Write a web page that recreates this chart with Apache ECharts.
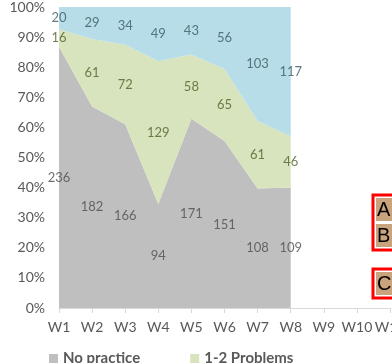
<!DOCTYPE html>
<html>
<head>
<meta charset="utf-8">
<script src="https://cdn.jsdelivr.net/npm/echarts@6/dist/echarts.min.js"></script>
<style>
  html, body { margin: 0; padding: 0; background: #fff; }
  #chart { width: 392px; height: 363px; }
</style>
</head>
<body>
<div id="chart"></div>
<script>
// weeks on the x axis (last one is cut off at the right edge)
const weeks = ['W1', 'W2', 'W3', 'W4', 'W5', 'W6', 'W7', 'W8', 'W9', 'W10', 'W11']
const seriesNames = ['No practice', '1-2 Problems', '3+ Problems']
// counts per week, only W1..W8 have data
const noPractice = [236, 182, 166, 94, 171, 151, 108, 109]
const oneTwo = [16, 61, 72, 129, 58, 65, 61, 46]
const threePlus = [20, 29, 34, 49, 43, 56, 103, 117]

const areaColors = ['#bfbfbf', '#d7e4bd', '#b7dde8']
const labelColors = ['#4d4d4d', '#4f6228', '#3b5a64']
const font = 'Lato, "Open Sans", sans-serif'

const counts = [noPractice, oneTwo, threePlus]
const totals = noPractice.map((v, i) => v + oneTwo[i] + threePlus[i])
const pcts = counts.map(arr => arr.map((v, i) => v / totals[i] * 100))

const series = []
// the stacked areas
pcts.forEach((arr, k) => {
    series.push({
        name: seriesNames[k],
        type: 'line',
        stack: 'total',
        symbol: 'none',
        lineStyle: { width: 0 },
        areaStyle: { color: areaColors[k], opacity: 1 },
        itemStyle: { color: areaColors[k] },
        data: arr
    })
})
// count labels in the middle of each band
pcts.forEach((arr, k) => {
    const mids = arr.map((v, i) => {
        let below = 0
        for (let j = 0; j < k; j++) below += pcts[j][i]
        return below + v / 2
    })
    series.push({
        name: seriesNames[k] + ' label',
        type: 'scatter',
        symbolSize: 1,
        itemStyle: { color: 'rgba(0,0,0,0)' },
        silent: true,
        z: 5,
        label: {
            show: true,
            position: 'inside',
            color: labelColors[k],
            fontFamily: font,
            fontSize: 13,
            formatter: p => counts[k][p.dataIndex]
        },
        data: mids
    })
})

const myChart = echarts.init(document.getElementById('chart'))
const option = {
    backgroundColor: '#fff',
    animation: false,
    grid: { left: 59, right: 2, top: 7, bottom: 55, outerBoundsMode: 'none' },
    legend: {
        data: ['No practice', '1-2 Problems'],
        left: 44,
        top: 346,
        itemWidth: 9,
        itemHeight: 9,
        itemGap: 50,
        icon: 'rect',
        textStyle: { color: '#595959', fontFamily: font, fontSize: 15, fontWeight: 'bold' }
    },
    xAxis: {
        type: 'category',
        data: weeks,
        boundaryGap: false,
        axisLine: { lineStyle: { color: '#d9d9d9' } },
        axisTick: { length: 5, lineStyle: { color: '#d9d9d9' } },
        axisLabel: { color: '#595959', fontFamily: font, fontSize: 14, margin: 12, interval: 0 }
    },
    yAxis: {
        type: 'value',
        min: 0,
        max: 100,
        interval: 10,
        axisLine: { show: false },
        axisTick: { show: false },
        splitLine: { show: false },
        axisLabel: { color: '#595959', fontFamily: font, fontSize: 14, margin: 14, formatter: '{value}%' }
    },
    series: series,
    graphic: [
        { type: 'rect', shape: { x: 373, y: 195, width: 30, height: 55 }, style: { fill: '#fff', stroke: '#ff0000', lineWidth: 3 } },
        { type: 'rect', shape: { x: 376, y: 198, width: 24, height: 23 }, style: { fill: '#c9a37c' } },
        { type: 'rect', shape: { x: 376, y: 224, width: 24, height: 23 }, style: { fill: '#c9a37c' } },
        { type: 'text', x: 377, y: 200, style: { text: 'A', fill: '#000', fontSize: 20, fontFamily: 'Liberation Sans' } },
        { type: 'text', x: 377, y: 226, style: { text: 'B', fill: '#000', fontSize: 20, fontFamily: 'Liberation Sans' } },
        { type: 'rect', shape: { x: 373, y: 269, width: 30, height: 29 }, style: { fill: '#fff', stroke: '#ff0000', lineWidth: 3 } },
        { type: 'rect', shape: { x: 376, y: 272, width: 24, height: 23 }, style: { fill: '#c9a37c' } },
        { type: 'text', x: 377, y: 274, style: { text: 'C', fill: '#000', fontSize: 20, fontFamily: 'Liberation Sans' } }
    ]
}
myChart.setOption(option)
</script>
</body>
</html>
